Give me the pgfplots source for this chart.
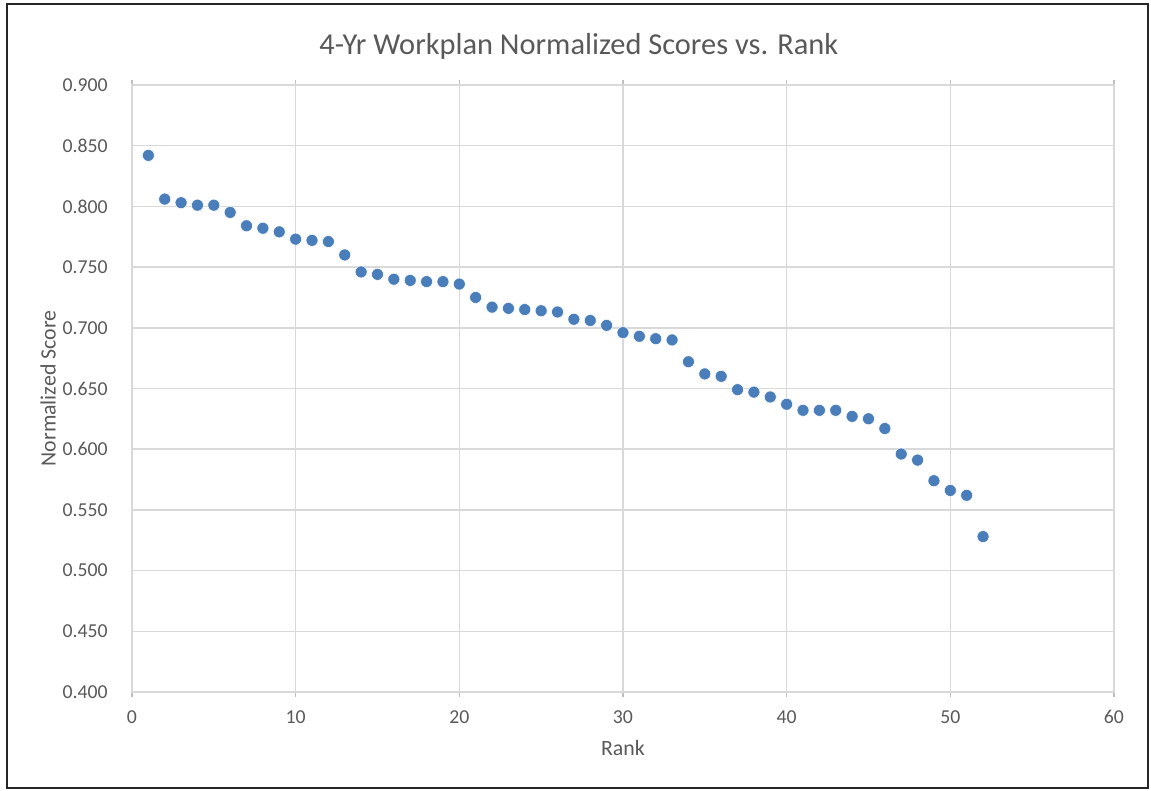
\documentclass[border=0pt]{standalone}
\usepackage{pgfplots}
\pgfplotsset{compat=1.18}
\usepackage{fontspec}
\setmainfont{Carlito}
\definecolor{txt}{HTML}{595959}
\definecolor{gridc}{HTML}{D9D9D9}
\definecolor{axc}{HTML}{BFBFBF}
\definecolor{dot}{HTML}{4A7EBB}
\begin{document}
\begin{tikzpicture}
\begin{axis}[
  scale only axis,
  width=736.5pt, height=455.25pt,
  xmin=0, xmax=60, ymin=0.4, ymax=0.9,
  xtick={0,10,20,30,40,50,60},
  ytick={0.4,0.45,0.5,0.55,0.6,0.65,0.7,0.75,0.8,0.85,0.9},
  yticklabels={0.400,0.450,0.500,0.550,0.600,0.650,0.700,0.750,0.800,0.850,0.900},
  grid=major,
  major grid style={gridc, line width=1.1pt},
  axis line style={gridc, line width=1.1pt},
  tick align=outside,
  major tick length=3.75pt,
  xtick style={axc, line width=1.1pt},
  ytick style={draw=none},
  /pgf/number format/assume math mode=true,
  ticklabel style={font=\fontsize{14.8}{16}\selectfont, text=txt},
  xticklabel style={anchor=center, yshift=-15pt},
  yticklabel style={anchor=east, inner sep=0pt, xshift=-14.25pt},
  title={4-Yr Workplan Normalized Scores vs. Rank},
  title style={at={(axis description cs:0.455,1.051)}, anchor=center, font=\fontsize{22.8}{26}\selectfont, text=txt},
  xlabel={Rank},
  xlabel style={at={(axis description cs:0.5,-0.0923)}, anchor=center, font=\fontsize{16.4}{18}\selectfont, text=txt},
  ylabel={Normalized Score},
  ylabel style={at={(axis description cs:-0.0855,0.5)}, anchor=center, rotate=0, font=\fontsize{16.4}{18}\selectfont, text=txt},
  clip=false,
]
\addplot[only marks, mark=*, mark size=4.5pt, mark options={fill=dot, draw=white, line width=0.4pt}] coordinates {
(1,0.842) (2,0.806) (3,0.803) (4,0.801) (5,0.801) (6,0.795) (7,0.784) (8,0.782)
(9,0.779) (10,0.773) (11,0.772) (12,0.771) (13,0.760) (14,0.746) (15,0.744) (16,0.740)
(17,0.739) (18,0.738) (19,0.738) (20,0.736) (21,0.725) (22,0.717) (23,0.716) (24,0.715)
(25,0.714) (26,0.713) (27,0.707) (28,0.706) (29,0.702) (30,0.696) (31,0.693) (32,0.691)
(33,0.690) (34,0.672) (35,0.662) (36,0.660) (37,0.649) (38,0.647) (39,0.643) (40,0.637)
(41,0.632) (42,0.632) (43,0.632) (44,0.627) (45,0.625) (46,0.617) (47,0.596) (48,0.591)
(49,0.574) (50,0.566) (51,0.562) (52,0.528)
};
\draw[color={black!85}, line width=1.8pt] (rel axis cs:-0.1273,-0.1582) rectangle (rel axis cs:1.0346,1.1334);
\path (rel axis cs:-0.1344,-0.1631) rectangle (rel axis cs:1.0377,1.14);
\end{axis}
\end{tikzpicture}
\end{document}
